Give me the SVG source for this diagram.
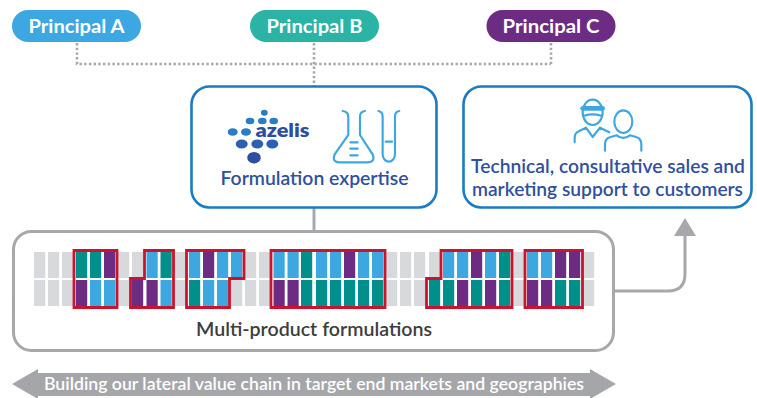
<svg xmlns="http://www.w3.org/2000/svg" width="757" height="398" viewBox="0 0 757 398">
<style>
text{font-family:"Lato","Open Sans","Liberation Sans",sans-serif;font-weight:700}
.pill{font-size:19px;fill:#fff;text-anchor:middle}
.blue{font-size:19px;fill:#2f509f;font-weight:600}
.box{fill:#fff;stroke:#1b7cc0;stroke-width:2.6}
.conn{fill:none;stroke:#a7a8ac;stroke-width:3}
.dot{fill:none;stroke:#a7a8ac;stroke-width:2.6;stroke-dasharray:2.4 2.3}
.icon{fill:none;stroke:#3ca7e0;stroke-width:6.5;stroke-linecap:round;stroke-linejoin:round}
.g{fill:#d8d9dc}.t{fill:#008f8a}.b{fill:#3ca7e0}.p{fill:#6c2c83}
.red{fill:none;stroke:#c8152d;stroke-width:2.8}
</style>
<defs>
<rect id="c" width="11.200" height="26"/>
</defs>
<g id="connectors">
<path class="dot" d="M77 43V64H551M551 43V64M314 43V86"/>
<path class="conn" d="M314 208V232"/>
<path class="conn" d="M614 291H668Q685 291 685 274V234"/>
<path d="M674 236L685 218L696 236Z" fill="#a7a8ac"/>
</g>
<g id="principal-a"><rect x="12" y="10" width="129" height="32" rx="16" fill="#3ca7e0"/><text class="pill" x="76.500" y="33" textLength="96" lengthAdjust="spacingAndGlyphs">Principal A</text></g>
<g id="principal-b"><rect x="250" y="10" width="129" height="32" rx="16" fill="#2bb3a6"/><text class="pill" x="314.500" y="33" textLength="96" lengthAdjust="spacingAndGlyphs">Principal B</text></g>
<g id="principal-c"><rect x="486.500" y="10" width="129" height="32" rx="16" fill="#6c2c83"/><text class="pill" x="551" y="33" textLength="97" lengthAdjust="spacingAndGlyphs">Principal C</text></g>
<g id="formulation-expertise">
<rect class="box" x="191.500" y="86.500" width="245" height="121" rx="18"/>
<g fill="#2b7cc6">
<ellipse cx="264.300" cy="112.700" rx="3.400" ry="3"/>
<ellipse cx="250" cy="121" rx="4.300" ry="3.300"/><ellipse cx="262.300" cy="121" rx="4.300" ry="3.300"/><ellipse cx="273.700" cy="121" rx="4.300" ry="3.300"/>
<ellipse cx="232.700" cy="132" rx="5" ry="3.800"/><ellipse cx="246" cy="132" rx="5" ry="3.800"/>
</g>
<g fill="#2c60b0">
<ellipse cx="241.700" cy="144" rx="6" ry="4.600"/><ellipse cx="257.300" cy="144" rx="6" ry="4.600"/><ellipse cx="272.300" cy="144" rx="6" ry="4.600"/>
<ellipse cx="254" cy="157.700" rx="6.800" ry="5.800" fill="#2c4f9e"/>
</g>
<text x="255.500" y="136.500" font-size="18" fill="#2f4da0" style="font-weight:800" textLength="54" lengthAdjust="spacingAndGlyphs">azelis</text>
<g transform="translate(190 85) scale(.3333)" class="icon">
<path d="M458 78Q475 80 475 95V150L434 208Q425 232 448 232H532Q557 232 548 208L510 150V95Q510 80 525 78"/>
<path d="M481 172H503M481 191H503M481 211H503"/>
<path d="M565 78Q578 80 578 95V208A18.500 22 0 0 0 615 208V95Q615 80 628 78"/>
<path d="M587 170H606"/>
</g>
<text class="blue" x="220.500" y="184.500" textLength="188" lengthAdjust="spacingAndGlyphs">Formulation expertise</text>
</g>
<g id="technical-support">
<rect class="box" x="463.500" y="86.500" width="288" height="121" rx="18"/>
<g transform="translate(460 85) scale(.3333)" class="icon">
<ellipse cx="398" cy="82" rx="30" ry="38"/>
<path d="M368 70H428" stroke-width="14"/>
<path d="M372 92Q398 84 424 92"/>
<path d="M344 172V158Q344 143 358 138L378 128L398 156L420 128L448 142"/>
<ellipse cx="490" cy="110" rx="27" ry="34"/>
<path d="M435 197V178Q435 160 452 156L470 151Q490 166 510 151L528 156Q544 160 544 178V197"/>
</g>
<text class="blue" x="471" y="172.500" textLength="274" lengthAdjust="spacingAndGlyphs">Technical, consultative sales and</text>
<text class="blue" x="472" y="196" textLength="271" lengthAdjust="spacingAndGlyphs">marketing support to customers</text>
</g>
<g id="multi-product-formulations">
<rect x="13.500" y="231.500" width="600" height="119" rx="18" fill="#fff" stroke="#a7a8ac" stroke-width="3"/>
<g id="grid-top">
<use href="#c" class="g" x="34" y="252"/><use href="#c" class="g" x="48" y="252"/><use href="#c" class="g" x="62" y="252"/><use href="#c" class="t" x="76" y="252"/><use href="#c" class="t" x="90" y="252"/><use href="#c" class="p" x="104" y="252"/><use href="#c" class="g" x="118" y="252"/><use href="#c" class="g" x="132" y="252"/><use href="#c" class="b" x="146.500" y="252"/><use href="#c" class="t" x="160.500" y="252"/><use href="#c" class="g" x="174.500" y="252"/><use href="#c" class="b" x="189" y="252"/><use href="#c" class="p" x="203" y="252"/><use href="#c" class="b" x="217" y="252"/><use href="#c" class="b" x="231" y="252"/><use href="#c" class="g" x="245" y="252"/><use href="#c" class="g" x="259" y="252"/><use href="#c" class="b" x="273.500" y="252"/><use href="#c" class="b" x="287.500" y="252"/><use href="#c" class="t" x="301" y="252"/><use href="#c" class="b" x="316" y="252"/><use href="#c" class="b" x="330" y="252"/><use href="#c" class="p" x="344" y="252"/><use href="#c" class="b" x="358" y="252"/><use href="#c" class="b" x="372" y="252"/><use href="#c" class="g" x="386" y="252"/><use href="#c" class="g" x="400" y="252"/><use href="#c" class="g" x="414" y="252"/><use href="#c" class="g" x="429" y="252"/><use href="#c" class="b" x="443" y="252"/><use href="#c" class="b" x="457" y="252"/><use href="#c" class="p" x="471" y="252"/><use href="#c" class="b" x="485" y="252"/><use href="#c" class="t" x="499" y="252"/><use href="#c" class="g" x="513" y="252"/><use href="#c" class="b" x="527" y="252"/><use href="#c" class="b" x="541" y="252"/><use href="#c" class="p" x="555" y="252"/><use href="#c" class="p" x="569" y="252"/><use href="#c" class="g" x="583" y="252"/>
</g>
<g id="grid-bottom">
<use href="#c" class="g" x="34" y="280"/><use href="#c" class="g" x="48" y="280"/><use href="#c" class="g" x="62" y="280"/><use href="#c" class="p" x="76" y="280"/><use href="#c" class="b" x="90" y="280"/><use href="#c" class="b" x="104" y="280"/><use href="#c" class="g" x="118" y="280"/><use href="#c" class="p" x="132" y="280"/><use href="#c" class="p" x="146.500" y="280"/><use href="#c" class="b" x="160.500" y="280"/><use href="#c" class="g" x="174.500" y="280"/><use href="#c" class="t" x="189" y="280"/><use href="#c" class="b" x="203" y="280"/><use href="#c" class="b" x="217" y="280"/><use href="#c" class="g" x="231" y="280"/><use href="#c" class="g" x="245" y="280"/><use href="#c" class="g" x="259" y="280"/><use href="#c" class="p" x="273.500" y="280"/><use href="#c" class="p" x="287.500" y="280"/><use href="#c" class="t" x="301" y="280"/><use href="#c" class="t" x="316" y="280"/><use href="#c" class="t" x="330" y="280"/><use href="#c" class="t" x="344" y="280"/><use href="#c" class="t" x="358" y="280"/><use href="#c" class="t" x="372" y="280"/><use href="#c" class="g" x="386" y="280"/><use href="#c" class="g" x="400" y="280"/><use href="#c" class="g" x="414" y="280"/><use href="#c" class="t" x="429" y="280"/><use href="#c" class="t" x="443" y="280"/><use href="#c" class="p" x="457" y="280"/><use href="#c" class="t" x="471" y="280"/><use href="#c" class="p" x="485" y="280"/><use href="#c" class="t" x="499" y="280"/><use href="#c" class="g" x="513" y="280"/><use href="#c" class="p" x="527" y="280"/><use href="#c" class="p" x="541" y="280"/><use href="#c" class="t" x="555" y="280"/><use href="#c" class="t" x="569" y="280"/><use href="#c" class="g" x="583" y="280"/>
</g>
<g id="outlines">
<path class="red" d="M74 250.500H117V307.500H74Z"/>
<path class="red" d="M130.500 307.500V278.500H144.500V250.500H173.500V307.500Z"/>
<path class="red" d="M186.500 250.500H244V278.500H229.500V307.500H186.500Z"/>
<path class="red" d="M271 250.500H385V307.500H271Z"/>
<path class="red" d="M426.500 307.500V278.500H441V250.500H512V307.500Z"/>
<path class="red" d="M525 250.500H582.500V307.500H525Z"/>
</g>
<text x="196" y="336" font-size="18.500" fill="#3d3d3d" style="font-weight:600" textLength="236" lengthAdjust="spacingAndGlyphs">Multi-product formulations</text>
</g>
<g id="value-chain-banner">
<path d="M12 384L38 369V373H590V369L616 384L590 399V396H38V399Z" fill="#a5a6aa"/>
<text x="44" y="389.500" font-size="17" fill="#fff" style="font-weight:600" textLength="540" lengthAdjust="spacingAndGlyphs">Building our lateral value chain in target end markets and geographies</text>
</g>
</svg>
